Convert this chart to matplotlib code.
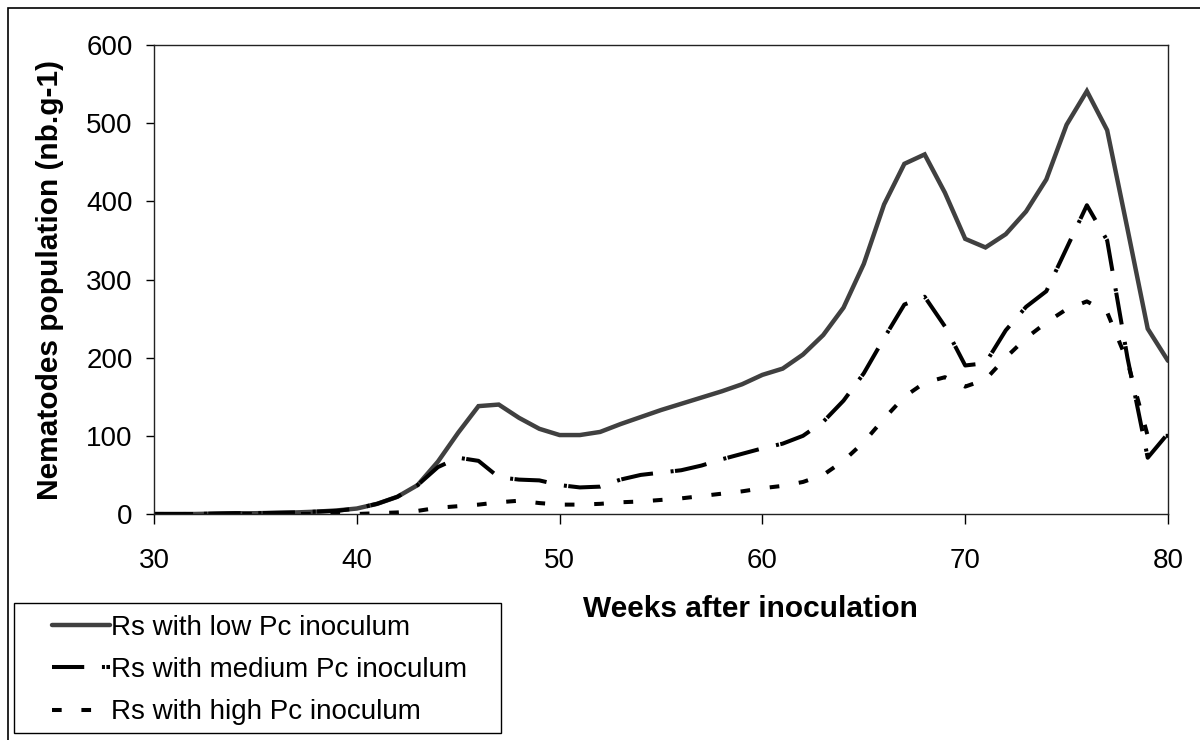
import matplotlib
matplotlib.use("Agg")
import matplotlib.pyplot as plt
from matplotlib.patches import Rectangle

plt.rcParams['font.family'] = ['Liberation Sans', 'DejaVu Sans']

weeks = list(range(30, 81))

low_pc = [0, 0, 0, 0.5, 1, 1, 1.5, 2, 3, 4.5,
          7, 13, 22, 37, 67, 104, 138, 140, 123, 109,
          101, 101, 105, 115, 124, 133, 141, 149, 157, 166,
          178, 186, 204, 229, 264, 320, 396, 448, 460, 411,
          352, 341, 358, 387, 428, 498, 541, 491, 365, 237,
          196]

medium_pc = [0, 0, 0, 0.5, 1, 1, 1.5, 2, 3, 4,
             7, 13, 22, 37, 60, 72, 68, 47, 44, 43,
             37, 34, 35, 44, 50, 53, 56, 62, 70, 77,
             84, 90, 100, 118, 145, 180, 225, 268, 278, 240,
             190, 193, 235, 265, 285, 340, 395, 350, 200, 72,
             103]

high_pc = [0, 0, 0, 0, 0, 0, 0, 0, 0, 0,
           0, 1, 2, 4, 8, 10, 12, 15, 17, 14,
           12, 12, 13, 15, 16, 18, 20, 23, 26, 29,
           33, 36, 41, 50, 68, 92, 122, 150, 168, 175,
           163, 172, 200, 225, 245, 262, 272, 258, 195, 100,
           100]

series_labels = ["Rs with low Pc inoculum",
                 "Rs with medium Pc inoculum",
                 "Rs with high Pc inoculum"]

x_ticks = [30, 40, 50, 60, 70, 80]
y_ticks = [0, 100, 200, 300, 400, 500, 600]

W, H = 1200, 740
fig = plt.figure(figsize=(W / 100, H / 100), dpi=100)

# outer frame (only top/left visible in reference)
fig.patches.append(Rectangle((8 / W, -0.1), 1.2, (H - 8) / H + 0.1,
                             transform=fig.transFigure, fill=False,
                             edgecolor='black', linewidth=1.2))

ax = fig.add_axes([154 / W, 1 - 514 / H, (1168 - 154) / W, (514 - 45) / H])

lw = 2.9
l1, = ax.plot(weeks, low_pc, color='#404040', lw=3.2, solid_joinstyle='miter',
              solid_capstyle='round', label=series_labels[0])
l2, = ax.plot(weeks, medium_pc, color='black', lw=lw, dash_capstyle='butt',
              label=series_labels[1])
l2.set_dashes((8, 4.4, 0.75, 0.35))
l3, = ax.plot(weeks, high_pc, color='black', lw=lw, dash_capstyle='butt',
              label=series_labels[2])
l3.set_dashes((2.4, 4.9))

ax.set_xlim(30, 80)
ax.set_ylim(0, 600)
ax.set_xticks(x_ticks)
ax.set_yticks(y_ticks)
ax.tick_params(axis='both', direction='out', width=1.0,
               labelsize=20, colors='black')
ax.tick_params(axis='x', length=7.2, pad=17)
ax.tick_params(axis='y', length=5.8, pad=9.5)
for s in ax.spines.values():
    s.set_color('#222222')
    s.set_linewidth(1.0)

fig.text(50 / W, 1 - 280 / H, "Nematodes population (nb.g-1)", rotation=90,
         fontsize=21.5, fontweight='bold', ha='center', va='center')
fig.text(750 / W, 1 - 609 / H, "Weeks after inoculation",
         fontsize=21.5, fontweight='bold', ha='center', va='center')

# legend frame
fig.patches.append(Rectangle((14 / W, 1 - 733 / H), (501 - 14) / W, (733 - 603) / H,
                             transform=fig.transFigure, fill=False,
                             edgecolor='black', linewidth=1.0))
leg = fig.legend(handles=[l1, l2, l3], labels=series_labels,
                 loc='upper left', bbox_to_anchor=(52 / W, 1 - 615 / H),
                 fontsize=20, frameon=False, handlelength=2.09, handletextpad=0.05,
                 labelspacing=0.58, borderpad=0, borderaxespad=0)

fig.savefig("out.png", dpi=100)
